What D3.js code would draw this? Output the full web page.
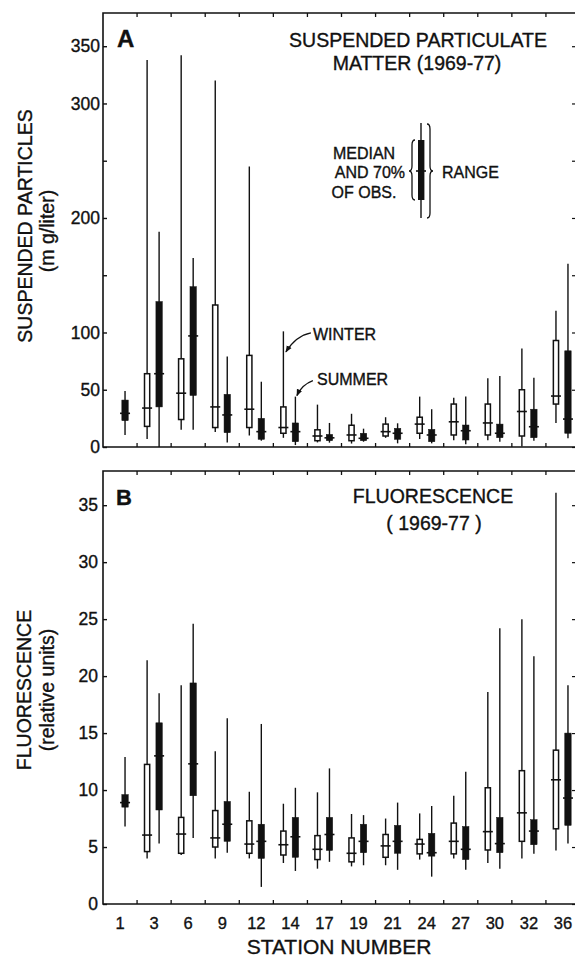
<!DOCTYPE html>
<html><head><meta charset="utf-8">
<script src="https://cdn.jsdelivr.net/npm/d3@7"></script>
<style>
body{margin:0;background:#fff}
svg{display:block}
text{font-family:"Liberation Sans",Arial,sans-serif;fill:#111;stroke:#111;stroke-width:0.35px}
</style>
</head><body><svg id="c" width="575" height="957"></svg>
<script>
// ---------------- DATA ----------------
const stations = [1, 3, 6, 9, 12, 14, 17, 19, 21, 24, 27, 30, 32, 36];
const seasons = ["winter", "summer"];
// each entry: [min, lower 70% bound, median, upper 70% bound, max]; null = no data
const spmWinter = [null,
  [7, 18, 34, 64, 338], [15, 24, 47, 77, 342], [13, 17, 35, 124, 320], [10, 17, 33, 80, 245],
  [8, 12, 17, 35, 101], [4, 5.5, 9.6, 15, 37], [3, 5.5, 10.5, 19, 29], [8, 9.6, 13.4, 20, 26],
  [7, 12, 20, 26, 44], [6, 10.5, 22, 37.5, 43], [6, 10.5, 21, 37.5, 60], [0.5, 9.6, 31, 50, 86],
  [21, 37.5, 44.5, 93, 119]];
const spmSummer = [
  [10.5, 23, 29.4, 41, 49], [0, 35, 64, 127, 188], [15, 45, 97, 140, 165], [4, 12.5, 28, 46, 79],
  [5.5, 6.7, 13.4, 25, 57], [1.7, 4.6, 13.4, 21, 44], [3.8, 5.5, 8, 11, 21], [4.6, 5.5, 7.6, 12, 16],
  [3.2, 6.7, 12, 16.3, 20.7], [3.2, 4.6, 10.5, 15.4, 33], [2.3, 6.1, 14.2, 19.2, 44],
  [4.6, 8.1, 12, 20, 62], [5.5, 8.1, 17.7, 33, 60.5], [7.6, 12, 24.4, 84, 160]];
const fluWinter = [null,
  [4.0, 4.6, 6.05, 12.25, 21.4], [4.3, 4.45, 6.14, 7.6, 19.2], [4.0, 5.0, 5.8, 8.2, 13.4],
  [4.0, 4.45, 5.26, 7.3, 9.85], [3.6, 4.3, 5.2, 6.4, 8.8], [3.1, 3.9, 4.8, 6.0, 9.8],
  [3.3, 3.7, 4.45, 5.8, 7.9], [3.4, 4.1, 5.1, 6.1, 7.5], [3.9, 4.4, 5.26, 5.67, 7.95],
  [4.0, 4.4, 5.5, 7.1, 9.5], [3.6, 4.74, 6.35, 10.2, 18.6], [4.0, 5.5, 8.0, 11.7, 25.0],
  [4.7, 6.6, 10.9, 13.5, 36.1]];
const fluSummer = [
  [6.8, 8.5, 8.9, 9.6, 12.9], [5.3, 8.25, 13.0, 15.9, 18.5], [5.8, 9.5, 12.3, 19.4, 24.6],
  [4.5, 5.5, 7.0, 9.0, 16.3], [1.5, 4.0, 5.5, 7.0, 15.8], [2.9, 4.1, 5.9, 7.6, 10.2],
  [3.7, 4.7, 6.1, 7.6, 11.9], [3.4, 4.5, 5.5, 7.0, 7.8], [3.0, 4.45, 5.5, 6.9, 8.9],
  [2.4, 4.2, 4.5, 6.2, 8.6], [3.0, 3.9, 4.8, 6.8, 11.6], [3.1, 4.5, 5.3, 7.6, 24.2],
  [4.4, 5.2, 6.4, 7.4, 21.75], [5.3, 6.9, 9.3, 15.0, 19.2]];
const spmTicks = [0, 50, 100, 150, 200, 250, 300, 350];
const spmTickLabels = [0, 50, 100, 200, 300, 350];
const fluTicks = [0, 5, 10, 15, 20, 25, 30, 35];
const spmDomain = [0, 379];
const fluDomain = [0, 38];

// ---------------- LAYOUT ----------------
const svg = d3.select("#c");
const X0 = 103, X1 = 580, FR = 577;
const x = d3.scaleBand().domain(stations).range([X0, X1]);
const off = d3.scaleBand().domain(seasons).range([-13, 11]);
const yA = d3.scaleLinear().domain(spmDomain).range([447, 13]);
const yB = d3.scaleLinear().domain(fluDomain).range([904, 471]);

function panel(y, ticks, labels, winter, summer, labelEnd) {
  const g = svg.append("g");
  const [yb, yt] = y.range();
  g.append("path").attr("d", `M${FR},${yt}H${X0}V${yb}H${FR}`)
    .attr("fill", "none").attr("stroke", "#111").attr("stroke-width", 1.6);
  const ax = d3.axisLeft(y).tickValues(ticks).tickSize(-4).tickPadding(labelEnd)
    .tickFormat(d => labels.includes(d) ? d : "");
  const ga = g.append("g").attr("transform", `translate(${X0},0)`).call(ax);
  ga.select(".domain").remove();
  ga.selectAll("line").attr("stroke", "#111").attr("stroke-width", 1.4);
  ga.selectAll("text").style("font-size", "17.5px").attr("fill", "#111");
  const ar = d3.axisRight(y).tickValues(ticks).tickSize(-5).tickFormat("");
  const gr = g.append("g").attr("transform", `translate(${FR},0)`).call(ar);
  gr.select(".domain").remove();
  gr.selectAll("line").attr("stroke", "#111").attr("stroke-width", 1.2);
  stations.slice(1).forEach(s => {
    const bx = x(s);
    g.append("line").attr("x1", bx).attr("x2", bx).attr("y1", yb).attr("y2", yb - 4)
      .attr("stroke", "#111").attr("stroke-width", 1.3);
    g.append("line").attr("x1", bx).attr("x2", bx).attr("y1", yt).attr("y2", yt + 4)
      .attr("stroke", "#111").attr("stroke-width", 1.3);
  });
  const data = [];
  stations.forEach((s, i) => {
    if (winter[i]) data.push({s, season: "winter", v: winter[i]});
    if (summer[i]) data.push({s, season: "summer", v: summer[i]});
  });
  const b = g.selectAll("g.box").data(data).join("g").attr("class", "box")
    .attr("transform", d => `translate(${x(d.s) + x.bandwidth() / 2 + off(d.season) + off.bandwidth() / 2},0)`);
  b.append("line").attr("x1", 0).attr("x2", 0)
    .attr("y1", d => y(d.v[0])).attr("y2", d => y(d.v[4]))
    .attr("stroke", "#111").attr("stroke-width", 1.4);
  b.append("rect")
    .attr("x", d => d.season === "winter" ? -2.6 : -3.2)
    .attr("width", d => d.season === "winter" ? 5.2 : 6.4)
    .attr("y", d => y(d.v[3])).attr("height", d => y(d.v[1]) - y(d.v[3]))
    .attr("fill", d => d.season === "winter" ? "#fff" : "#111")
    .attr("stroke", "#111").attr("stroke-width", d => d.season === "winter" ? 1.5 : 0.5);
  b.append("line").attr("x1", -5).attr("x2", 5)
    .attr("y1", d => y(d.v[2])).attr("y2", d => y(d.v[2]))
    .attr("stroke", "#111").attr("stroke-width", 1.6);
  return g;
}

panel(yA, spmTicks, spmTickLabels, spmWinter, spmSummer, 3);
panel(yB, fluTicks, fluTicks, fluWinter, fluSummer, 5);

const gx = svg.append("g").attr("transform", "translate(0,904)")
  .call(d3.axisBottom(x).tickSize(0).tickPadding(13));
gx.select(".domain").remove();
gx.selectAll("text").style("font-size", "16.5px").attr("fill", "#111");

function txt(t, xx, yy, size, opts = {}) {
  const e = svg.append("text").attr("x", xx).attr("y", yy).text(t)
    .style("font-size", size + "px")
    .attr("text-anchor", opts.anchor || "middle");
  if (opts.weight) e.style("font-weight", opts.weight);
  if (opts.rot) e.attr("transform", `rotate(-90,${xx},${yy})`);
  return e;
}

txt("A", 117, 47, 24, {anchor: "start", weight: "bold"});
txt("B", 116, 505, 22, {anchor: "start", weight: "bold"});
txt("SUSPENDED PARTICULATE", 418, 47, 19.5);
txt("MATTER (1969-77)", 417, 70, 19.5);
txt("FLUORESCENCE", 433, 503, 19.5);
txt("( 1969-77 )", 434, 530, 19.5);

txt("SUSPENDED PARTICLES", 32, 226, 19.5, {rot: true});
txt("(m g/liter)", 54, 231, 19.5, {rot: true});
txt("FLUORESCENCE", 31, 690, 19.5, {rot: true});
txt("(relative units)", 54, 690, 19.5, {rot: true});
txt("STATION NUMBER", 339, 954, 21);

const lg = svg.append("g");
lg.append("line").attr("x1", 421).attr("x2", 421).attr("y1", 123).attr("y2", 218)
  .attr("stroke", "#111").attr("stroke-width", 1.4);
lg.append("rect").attr("x", 418).attr("y", 140).attr("width", 6.4).attr("height", 60).attr("fill", "#111");
lg.append("line").attr("x1", 416).attr("x2", 426).attr("y1", 171).attr("y2", 171)
  .attr("stroke", "#111").attr("stroke-width", 1.6);
lg.append("path").attr("d", "M415,140 Q412,140 412,145 L412,166 Q412,171 409,171 Q412,171 412,176 L412,195 Q412,200 415,200")
  .attr("fill", "none").attr("stroke", "#111").attr("stroke-width", 1.3);
lg.append("path").attr("d", "M427,124 Q430,124 430,129 L430,166 Q430,171 433,171 Q430,171 430,176 L430,213 Q430,218 427,218")
  .attr("fill", "none").attr("stroke", "#111").attr("stroke-width", 1.3);
txt("MEDIAN", 364, 159, 16);
txt("AND 70%", 405, 178, 16, {anchor: "end"});
txt("OF OBS.", 364, 198, 16);
txt("RANGE", 442, 178, 16, {anchor: "start"});

svg.append("defs").append("marker").attr("id", "ah").attr("viewBox", "0 0 10 10")
  .attr("refX", 9).attr("refY", 5).attr("markerWidth", 7).attr("markerHeight", 7)
  .attr("orient", "auto").attr("markerUnits", "userSpaceOnUse")
  .append("path").attr("d", "M0,1 L10,5 L0,9 Z").attr("fill", "#111");
const s14 = stations.indexOf(14);
const wx = x(14) + x.bandwidth() / 2 + off("winter") + off.bandwidth() / 2;
const sx = x(14) + x.bandwidth() / 2 + off("summer") + off.bandwidth() / 2;
const wTip = [wx + 2.5, yA(83)];
const sTip = [sx + 1.5, yA(spmSummer[s14][4]) - 1];
svg.append("path").attr("d", `M${wTip[0] + 25},${wTip[1] - 19} Q${wTip[0] + 10},${wTip[1] - 16} ${wTip[0]},${wTip[1]}`)
  .attr("fill", "none").attr("stroke", "#111").attr("stroke-width", 1.3).attr("marker-end", "url(#ah)");
svg.append("path").attr("d", `M${sTip[0] + 16},${sTip[1] - 15} Q${sTip[0] + 5},${sTip[1] - 11} ${sTip[0]},${sTip[1]}`)
  .attr("fill", "none").attr("stroke", "#111").attr("stroke-width", 1.3).attr("marker-end", "url(#ah)");
txt("WINTER", 313, 340, 16, {anchor: "start"});
txt("SUMMER", 317, 385, 16, {anchor: "start"});
</script>
</body></html>
